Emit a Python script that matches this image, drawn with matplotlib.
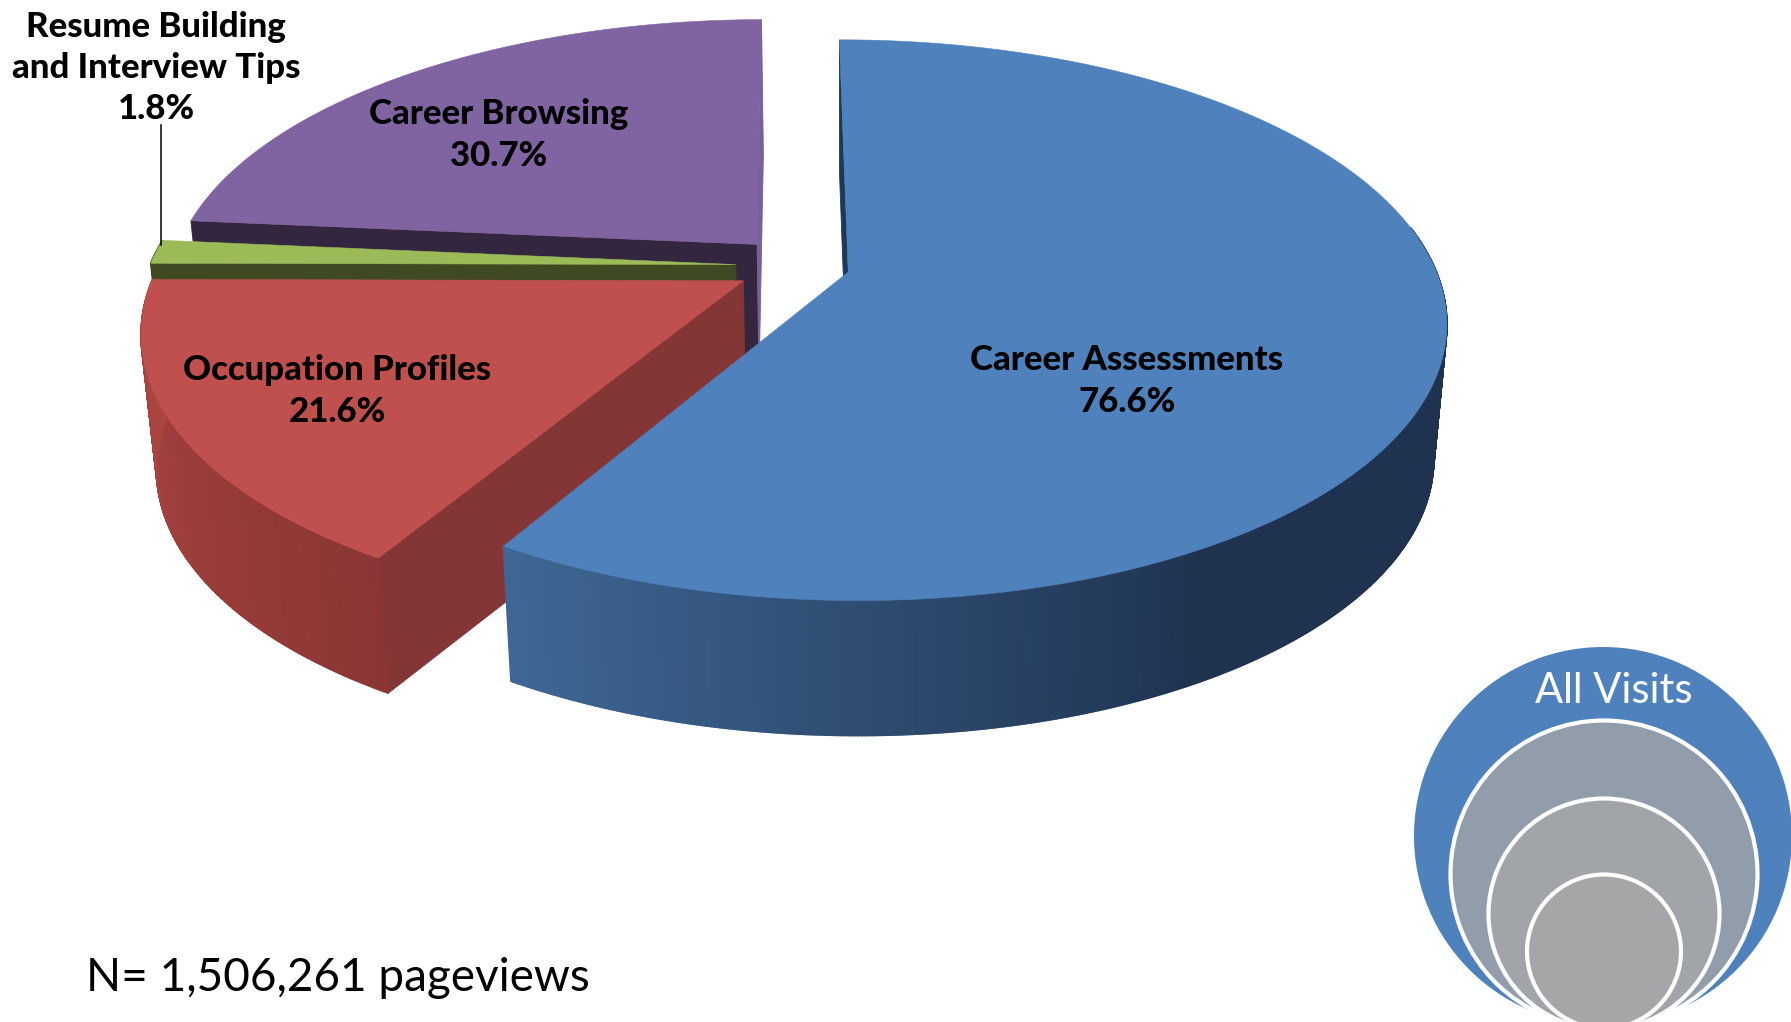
#!/usr/bin/env python3

import matplotlib
matplotlib.use("Agg")
import numpy as np
import matplotlib.pyplot as plt
from matplotlib.colors import to_rgb
from matplotlib.patches import Circle

# data, clockwise from the top of the pie
categories = ["Career Assessments", "Occupation Profiles",
              "Resume Building\nand Interview Tips", "Career Browsing"]
share_pct = [76.6, 21.6, 1.8, 30.7]
pageviews = "1,506,261"
nested_labels = ["All Visits"]

# styling
top_colors = ["#4f81bd", "#c0504d", "#9bbb59", "#8064a2"]
cut_colors = ["#1c3a57", "#843535", "#3f4a22", "#35263f"]
end_colors = [None, None, None, "#7a5f9b"]
wall_from = ["#1f3350", "#8a3634", "#3f4a22", "#35263f"]
wall_to = ["#3f6795", "#ad4643", "#3f4a22", "#35263f"]
explode = [0.085, 0.11, 0.11, 0.11]
draw_order = [3, 2, 1, 0]
label_xy = [(1127, 381), (337, 391), (156, 68), (499, 135)]

START_DEG = -0.2
CX, CY = 800, 266
RX, RY = 586, 270
PERSP = 5.85
DEPTH = 135
SHRINK = 0.978
VANISH_X = 846
FONT = "Lato"


def project(u, v):
    w = PERSP / (PERSP - v)
    return CX + RX * u * w, CY + RY * v * w


def lower(x, y):
    return VANISH_X + (x - VANISH_X) * SHRINK, y + DEPTH


def wall_color(i, t):
    a = np.array(to_rgb(wall_from[i]))
    b = np.array(to_rgb(wall_to[i]))
    return tuple(a + (b - a) * t)


def quad(ax, p0, p1, color, lw=0.6):
    x0, y0 = p0
    x1, y1 = p1
    bx0, by0 = lower(x0, y0)
    bx1, by1 = lower(x1, y1)
    ax.fill([x0, x1, bx1, bx0], [y0, y1, by1, by0], color=color, lw=lw)


def draw_slice(ax, i, t0, t1):
    mid = (t0 + t1) / 2
    ou = explode[i] * np.sin(mid)
    ov = -explode[i] * np.cos(mid)
    thetas = np.linspace(t0, t1, max(int(np.degrees(t1 - t0) * 4), 8))
    rim = [project(ou + np.sin(t), ov - np.cos(t)) for t in thetas]
    apex = project(ou, ov)

    # flat faces left by the explosion
    quad(ax, apex, rim[0], cut_colors[i])
    if end_colors[i]:
        quad(ax, apex, rim[-1], end_colors[i])

    # outer wall, shaded along the rim, front half only
    for k in range(len(rim) - 1):
        deg = np.degrees(thetas[k])
        if deg < 80 or deg > 275:
            continue
        if i == 0:
            t = np.clip((deg - 150) / 60, 0, 1)
        else:
            t = (deg - 210) / 60
        quad(ax, rim[k], rim[k + 1], wall_color(i, np.clip(t, 0, 1)), lw=1.2)

    xs = [apex[0]] + [p[0] for p in rim]
    ys = [apex[1]] + [p[1] for p in rim]
    ax.fill(xs, ys, color=top_colors[i], lw=0.4)


def plot_pie(ax):
    total = sum(share_pct)
    edges = np.radians(START_DEG + np.cumsum([0] + share_pct) / total * 360)
    for i in draw_order:
        draw_slice(ax, i, edges[i], edges[i + 1])

    for name, pct, (x, y) in zip(categories, share_pct, label_xy):
        ax.text(x, y, f"{name}\n{pct}%", ha="center", va="center", color="black",
                family=FONT, weight="black", fontsize=25, linespacing=1.365)

    # leader line for the small slice
    ax.plot([161, 161], [125, 245], color="black", lw=1.1)


def plot_nested(ax):
    circles = [(1603, 836, 189, "#4f81bd", "none"),
               (1604, 874, 153.5, "#929dac", "white"),
               (1604, 914, 115.5, "#a1a4a9", "white"),
               (1604, 951.5, 77, "#a5a6a8", "white")]
    for x, y, r, face, edge in circles:
        ax.add_patch(Circle((x, y), r, facecolor=face, edgecolor=edge, lw=3.0))
    ax.text(1614, 703, nested_labels[0], color="white", ha="center", va="baseline",
            family=FONT, fontsize=30)


def main():
    fig = plt.figure(figsize=(17.91, 10.22), dpi=100)
    ax = fig.add_axes([0, 0, 1, 1])
    ax.set_xlim(0, 1791)
    ax.set_ylim(1022, 0)
    ax.axis("off")

    plot_pie(ax)
    plot_nested(ax)

    ax.text(86, 991, f"N= {pageviews} pageviews", color="black", ha="left",
            va="baseline", family=FONT, fontsize=33)

    plt.savefig("out.png", dpi=100)


if __name__ == "__main__":
    main()
